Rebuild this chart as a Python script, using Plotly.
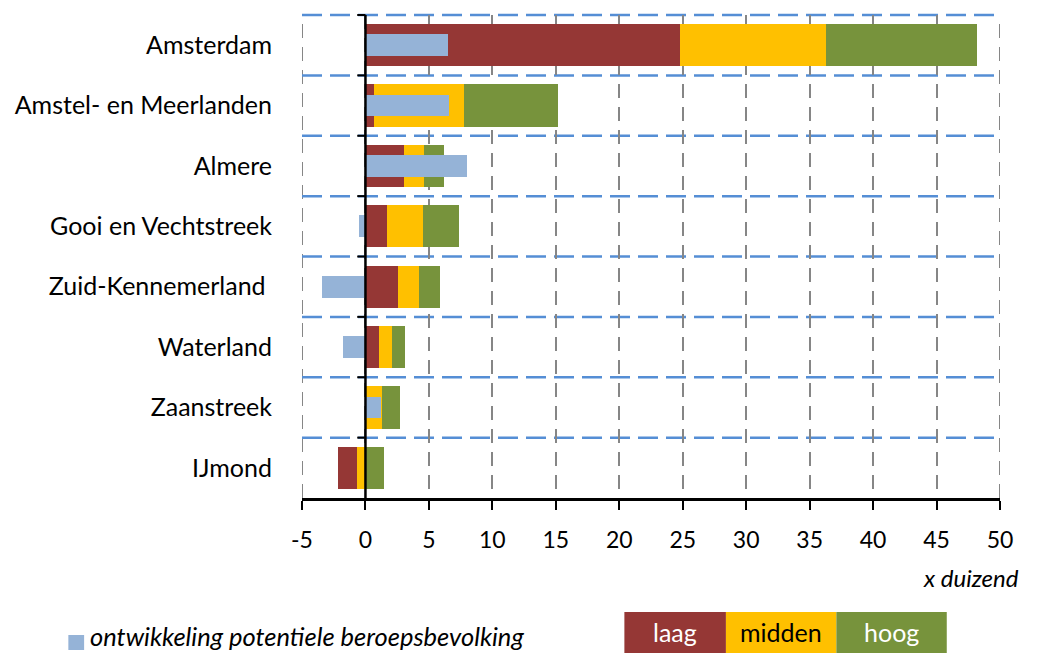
import plotly.graph_objects as go

# ---- data (x duizend) ----
regions = ["Amsterdam", "Amstel- en Meerlanden", "Almere", "Gooi en Vechtstreek",
           "Zuid-Kennemerland\u00a0", "Waterland", "Zaanstreek", "IJmond"]
laag = [24.8, 0.7, 3.0, 1.7, 2.6, 1.1, 0.0, -1.5]
midden = [11.5, 7.1, 1.6, 2.8, 1.6, 1.0, 1.3, -0.7]
hoog = [11.9, 7.4, 1.6, 2.9, 1.7, 1.0, 1.4, 1.5]
potentieel = [6.5, 6.6, 8.0, -0.5, -3.4, -1.8, 1.2, 0.0]
x_ticks = [-5, 0, 5, 10, 15, 20, 25, 30, 35, 40, 45, 50]

series_names = ["laag", "midden", "hoog"]
series_vals = [laag, midden, hoog]
colors = {"laag": "#953735", "midden": "#FFC000", "hoog": "#77933C"}
blue = "#95B3D7"
FONT = "Lato"

# stacking: positives in order laag->hoog, negatives stacked outward in reverse order
n = len(regions)
bases = {}
pos = [0.0] * n
for name, vals in zip(series_names, series_vals):
    b = []
    for i, v in enumerate(vals):
        if v >= 0:
            b.append(pos[i]); pos[i] += v
        else:
            b.append(None)
    bases[name] = b
neg = [0.0] * n
for name, vals in reversed(list(zip(series_names, series_vals))):
    for i, v in enumerate(vals):
        if v < 0:
            bases[name][i] = neg[i]; neg[i] += v

fig = go.Figure()
for name, vals in zip(series_names, series_vals):
    fig.add_trace(go.Bar(
        y=regions, x=vals, base=bases[name], orientation="h", name=name,
        width=0.7, marker=dict(color=colors[name], line=dict(width=0)),
        showlegend=False))
fig.add_trace(go.Bar(
    y=regions, x=potentieel, orientation="h",
    name="ontwikkeling potentiele beroepsbevolking",
    width=0.36, marker=dict(color=blue, line=dict(width=0)), showlegend=False))

# page has an 8px body margin: work in page coordinates and subtract it
OFF = 8
W, H = 1037 - OFF, 653 - OFF
L, R, T, B = 292 - OFF, 1000 - OFF, 15 - OFF, 498 - OFF


def px(xp):
    return (xp - OFF - L) / (R - L)


def py(yp):
    return (B - (yp - OFF)) / (B - T)


shapes = []
# outer vertical gridlines at -5 and 50
for xv in (x_ticks[0], x_ticks[-1]):
    shapes.append(dict(type="line", xref="x", yref="paper", x0=xv, x1=xv, y0=0, y1=1,
                       layer="below",
                       line=dict(color="#868686", width=2, dash="14px,9px")))
# horizontal dashed blue separators between categories
for k in range(n):
    yy = 1 - k / n
    shapes.append(dict(type="line", xref="paper", yref="paper", x0=0, x1=1,
                       y0=yy, y1=yy, layer="below",
                       line=dict(color="#558ED5", width=2.5, dash="20px,8px")))
# zero axis line and its ticks
shapes.append(dict(type="line", xref="x", yref="paper", x0=0, x1=0, y0=0, y1=1,
                   layer="above", line=dict(color="black", width=2.5)))
for k in range(n):
    yy = 1 - k / n
    shapes.append(dict(type="line", xref="x", yref="paper", x0=-0.65, x1=0,
                       y0=yy, y1=yy, layer="above",
                       line=dict(color="black", width=2)))
# legend
shapes.append(dict(type="rect", xref="paper", yref="paper",
                   x0=px(55), x1=px(71), y0=py(650), y1=py(635),
                   fillcolor=blue, line=dict(width=0)))
box_x = [619, 722, 834, 946]
for i, name in enumerate(series_names):
    shapes.append(dict(type="rect", xref="paper", yref="paper",
                       x0=px(box_x[i]), x1=px(box_x[i + 1]), y0=py(660), y1=py(612),
                       fillcolor=colors[name], line=dict(width=0)))

annotations = [
    dict(text="<i>x duizend</i>", xref="paper", yref="paper", x=px(1021), y=py(577),
         xanchor="right", yanchor="middle", showarrow=False,
         font=dict(family=FONT, size=24, color="black")),
    dict(text="<i>ontwikkeling potentiele beroepsbevolking</i>", xref="paper", yref="paper",
         x=px(75), y=py(636), xanchor="left", yanchor="middle", showarrow=False,
         font=dict(family=FONT, size=25.5, color="black")),
]
txt_colors = {"laag": "white", "midden": "black", "hoog": "white"}
for i, name in enumerate(series_names):
    annotations.append(dict(text=name, xref="paper", yref="paper",
                            x=px((box_x[i] + box_x[i + 1]) / 2), y=py(632),
                            xanchor="center", yanchor="middle", showarrow=False,
                            font=dict(family=FONT, size=25, color=txt_colors[name])))

fig.update_layout(
    width=W, height=H, autosize=False,
    margin=dict(l=L, r=W - R, t=T, b=H - B, pad=0),
    paper_bgcolor="white", plot_bgcolor="white",
    barmode="overlay", bargap=0,
    font=dict(family=FONT, size=23, color="black"),
    shapes=shapes, annotations=annotations,
    xaxis=dict(range=[-5, 50], tickvals=x_ticks, ticktext=[str(v) for v in x_ticks],
               showgrid=True, gridcolor="#868686", gridwidth=2, griddash="14px,9px",
               zeroline=False, showline=True, linecolor="black", linewidth=2.5,
               ticks="outside", ticklen=9, tickwidth=2, tickcolor="black",
               ticklabelstandoff=11, tickfont=dict(family=FONT, size=23)),
    yaxis=dict(categoryorder="array", categoryarray=regions, autorange=False,
               range=[n - 0.5, -0.5], showgrid=False, zeroline=False, showline=False,
               ticks="", ticklabelstandoff=29, tickfont=dict(family=FONT, size=25)),
)

fig.write_html("out.html")
